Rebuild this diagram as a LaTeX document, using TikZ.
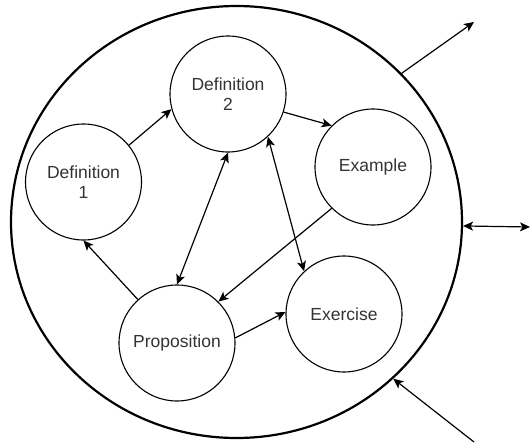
\documentclass[tikz,border=0pt]{standalone}
\usepackage{fontspec}
\setmainfont{Liberation Sans}
\usetikzlibrary{shapes.geometric,arrows.meta}
\tikzstyle{topic} = [circle, draw=black, line width=1.1pt, minimum size=116pt, inner sep=0pt, align=center, text=black!80, font=\fontsize{17.5}{20}\selectfont]
\tikzstyle{arrow} = [line width=1.2pt, -{Stealth[length=10pt,width=9pt,inset=2.5pt]}]
\tikzstyle{twoway} = [line width=1.2pt, {Stealth[length=10pt,width=9pt,inset=2.5pt]}-{Stealth[length=10pt,width=9pt,inset=2.5pt]}]

\begin{document}
\begin{tikzpicture}[x=1pt,y=-1pt]
\useasboundingbox (0,0) rectangle (530,442);
\node (Whole) [ellipse, draw=black, line width=2.2pt, minimum width=451pt, minimum height=432pt, inner sep=0pt] at (236.5,222) {};
\node (Def1) [topic] at (83.5,182) {Definition\\1};
\node (Def2) [topic] at (228,94) {Definition\\2};
\node (Example) [topic] at (373,167) {Example};
\node (Exercise) [topic] at (344,314) {Exercise};
\node (Prop) [topic] at (177,343) {Proposition};
\coordinate (Out) at (474,22);
\coordinate (Side) at (530,227);
\coordinate (In) at (474,442);

\draw [arrow] (Def1.39) -- (Def2.195);
\draw [arrow] (Def2.-18) -- (Example.135);
\draw [twoway] (Def2.south) -- (Prop.north);
\draw [twoway] (Def2.-47) -- (Exercise.133);
\draw [arrow] (Example.225) -- (Prop.45);
\draw [arrow] (Prop.132) -- (Def1.south);
\draw [arrow] (Prop.5) -- (Exercise.178);
\draw [arrow] (Whole.42) -- (Out);
\draw [twoway] (Whole.-1.5) -- (Side);
\draw [arrow] (In) -- (Whole.-45);
\end{tikzpicture}
\end{document}
